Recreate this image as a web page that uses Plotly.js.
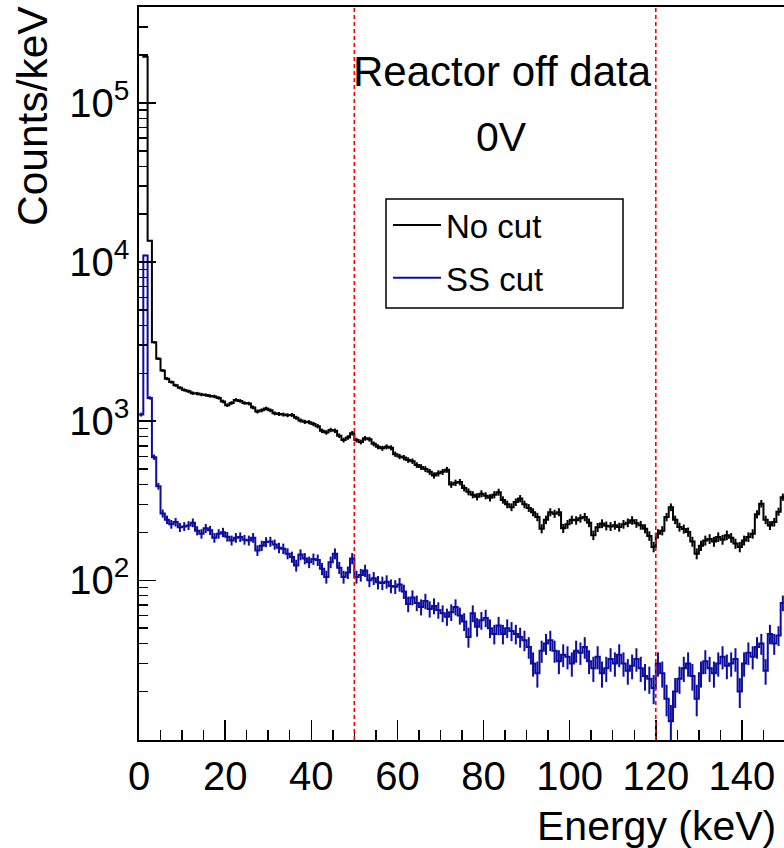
<!DOCTYPE html>
<html><head><meta charset="utf-8">
<script src="https://cdn.plot.ly/plotly-3.0.1.min.js"></script>
<style>html,body{margin:0;padding:0;overflow:hidden;background:#fff}</style>
</head><body><div id="chart"></div>
<script>
// ---- data (counts/keV per 1 keV bin) ----
const binWidthKeV = 1;
const noCut = [
 200000,195000,13600,3130,2470,2080,1850,1760,1680,1620,
 1570,1540,1500,1490,1470,1460,1440,1430,1400,1330,
 1260,1300,1360,1340,1300,1290,1220,1150,1170,1200,
 1170,1120,1110,1100,1090,1095,1050,1010,990,985,
 960,930,870,850,880,870,810,760,790,840,
 760,740,780,770,720,690,675,690,680,620,
 600,590,570,560,530,515,500,480,456,470,
 480,495,400,410,414,380,360,345,335,350,
 340,330,345,358,320,300,288,310,326,300,
 285,268,250,211,240,268,262,268,212,225,
 240,238,245,250,230,192,215,227,220,218,
 222,216,225,230,238,228,222,211,190,162,
 196,205,250,288,240,216,210,201,175,147,
 165,178,182,175,187,180,192,185,170,162,
 178,187,196,260,303,240,221,232,270,333
];
const ssCut = [
 1100,11000,1400,594,390,263,240,225,232,215,
 218,221,230,205,196,212,206,185,196,200,
 188,178,185,187,180,178,185,154,165,174,
 175,168,160,158,147,140,124,145,137,130,
 136,134,118,105,130,147,120,105,112,137,
 105,108,115,100,103,97,96,98,92,91,
 94,85,71,78,72,68,74,66,69,65,
 62,59,63,68,60,55,44,62,51,56,
 58,50,46,52,46,50,48,46,44,42,
 38,30,26,36,40,42,36,31,34,33,
 30,36,35,38,31,28,33,26,28,32,
 30,34,30,27,29,32,28,25,24,21,
 30,26,18,13,20,24,28,30,25,18,
 26,31,28,26,30,33,29,30,32,20,
 30,35,33,38,40,27,46,40,45,72
];
const countScale = 1.1;           // effective counts per (counts/keV) unit for error bars
const cutLinesKeV = [50, 120];
const seriesNames = ['No cut', 'SS cut'];
const titleLines = ['Reactor off data', '0V'];
const xTickVals = [0, 20, 40, 60, 80, 100, 120, 140];
const yTickVals = [100, 1000, 10000, 100000];
const yTickText = ['10<sup>2</sup>', '10<sup>3</sup>', '10<sup>4</sup>', '10<sup>5</sup>'];
const xAxisTitle = 'Energy (keV)';
const yAxisTitle = 'Counts/keV';

// ---- helpers ----
function stepXY(vals) {
  const x = vals.map((_, i) => i * binWidthKeV);
  x.push(vals.length * binWidthKeV);
  const y = vals.concat([vals[vals.length - 1]]);
  return {x, y};
}
function centers(vals) { return vals.map((_, i) => (i + 0.5) * binWidthKeV); }
function errs(vals) { return vals.map(v => Math.sqrt(v * countScale) / countScale); }

const minorY = [];
for (let d = 1; d <= 5; d++) for (let m = 2; m <= 9; m++) {
  const v = m * Math.pow(10, d);
  if (v < 4e5) minorY.push(v);
}

const FONT = '"Liberation Sans", Arial, Helvetica, sans-serif';
const BLACK = '#000000', BLUE = '#0c0ca0';

// plot-area pixel geometry (for placing legend frame / texts in paper units)
const W = 786, H = 848, ML = 139, MR = 1, MT = 7, MB = 108;
const PW = W - ML - MR, PH = H - MT - MB;
const px = x => (x - ML) / PW;
const py = y => (H - MB - y) / PH;

const s1 = stepXY(noCut), s2 = stepXY(ssCut);
const traces = [
  {x: s1.x, y: s1.y, type: 'scatter', mode: 'lines', line: {shape: 'hv', color: BLACK, width: 2},
   name: seriesNames[0], legendgroup: 'a'},
  {x: centers(noCut), y: noCut, type: 'scatter', mode: 'markers', marker: {size: 1, color: BLACK, opacity: 0},
   error_y: {type: 'data', array: errs(noCut), visible: true, color: BLACK, thickness: 2, width: 0},
   showlegend: false, hoverinfo: 'skip', legendgroup: 'a'},
  {x: s2.x, y: s2.y, type: 'scatter', mode: 'lines', line: {shape: 'hv', color: BLUE, width: 2},
   name: seriesNames[1], legendgroup: 'b'},
  {x: centers(ssCut), y: ssCut, type: 'scatter', mode: 'markers', marker: {size: 1, color: BLUE, opacity: 0},
   error_y: {type: 'data', array: errs(ssCut), visible: true, color: BLUE, thickness: 2, width: 0},
   showlegend: false, hoverinfo: 'skip', legendgroup: 'b'}
];

const shapes = cutLinesKeV.map(e => ({
  type: 'line', xref: 'x', yref: 'paper', x0: e, x1: e, y0: 0, y1: 1,
  line: {color: '#ff0000', width: 1.6, dash: '4px,3px'}
}));
// legend frame
shapes.push({type: 'rect', xref: 'paper', yref: 'paper', x0: px(386), x1: px(623), y0: py(308), y1: py(199),
  line: {color: '#000', width: 1.5}, fillcolor: 'rgba(0,0,0,0)', layer: 'above'});

const layout = {
  width: W, height: H,
  margin: {l: ML, r: MR, t: MT, b: MB, pad: 0},
  paper_bgcolor: '#ffffff', plot_bgcolor: '#ffffff',
  font: {family: FONT, color: '#000000', size: 40},
  showlegend: true,
  legend: {
    x: px(388), y: py(197), xanchor: 'left', yanchor: 'top',
    borderwidth: 0, bgcolor: 'rgba(0,0,0,0)',
    font: {family: FONT, size: 33, color: '#000000'},
    itemwidth: 48, tracegroupgap: 7, traceorder: 'grouped'
  },
  xaxis: {
    range: [0, 150], tickmode: 'array', tickvals: xTickVals,
    ticks: 'inside', ticklen: 20, tickwidth: 1.5, tickcolor: '#000',
    minor: {dtick: 5, tick0: 0, ticks: 'inside', ticklen: 10.5, tickwidth: 1.5, tickcolor: '#000'},
    showline: true, mirror: true, linewidth: 1.6, linecolor: '#000',
    showgrid: false, zeroline: false,
    tickfont: {family: FONT, size: 40, color: '#000'}
  },
  yaxis: {
    type: 'log', range: [0.996, 5.603], tickmode: 'array', tickvals: yTickVals, ticktext: yTickText,
    ticks: 'inside', ticklen: 17, tickwidth: 1.5, tickcolor: '#000',
    minor: {tickmode: 'array', tickvals: minorY, ticks: 'inside', ticklen: 8.5, tickwidth: 1.5, tickcolor: '#000'},
    showline: true, mirror: true, linewidth: 1.6, linecolor: '#000',
    showgrid: false, zeroline: false,
    tickfont: {family: FONT, size: 40, color: '#000'}
  },
  shapes: shapes,
  annotations: [
    {text: titleLines[0], xref: 'paper', yref: 'paper', x: px(502), y: py(71), xanchor: 'center', yanchor: 'middle',
     showarrow: false, font: {family: FONT, size: 42, color: '#000'}},
    {text: titleLines[1], xref: 'paper', yref: 'paper', x: px(501), y: py(137), xanchor: 'center', yanchor: 'middle',
     showarrow: false, font: {family: FONT, size: 41, color: '#000'}},
    {text: xAxisTitle, xref: 'paper', yref: 'paper', x: 1, y: 0, xanchor: 'right', yanchor: 'middle',
     xshift: -7, yshift: -86, showarrow: false, font: {family: FONT, size: 41, color: '#000'}},
    {text: yAxisTitle, xref: 'paper', yref: 'paper', x: 0, y: 1, xanchor: 'center', yanchor: 'middle',
     xshift: -107, yshift: -109, textangle: -90, showarrow: false, font: {family: FONT, size: 42.5, color: '#000'}}
  ]
};

Plotly.newPlot('chart', traces, layout, {displayModeBar: false, staticPlot: true});
</script>
</body></html>
